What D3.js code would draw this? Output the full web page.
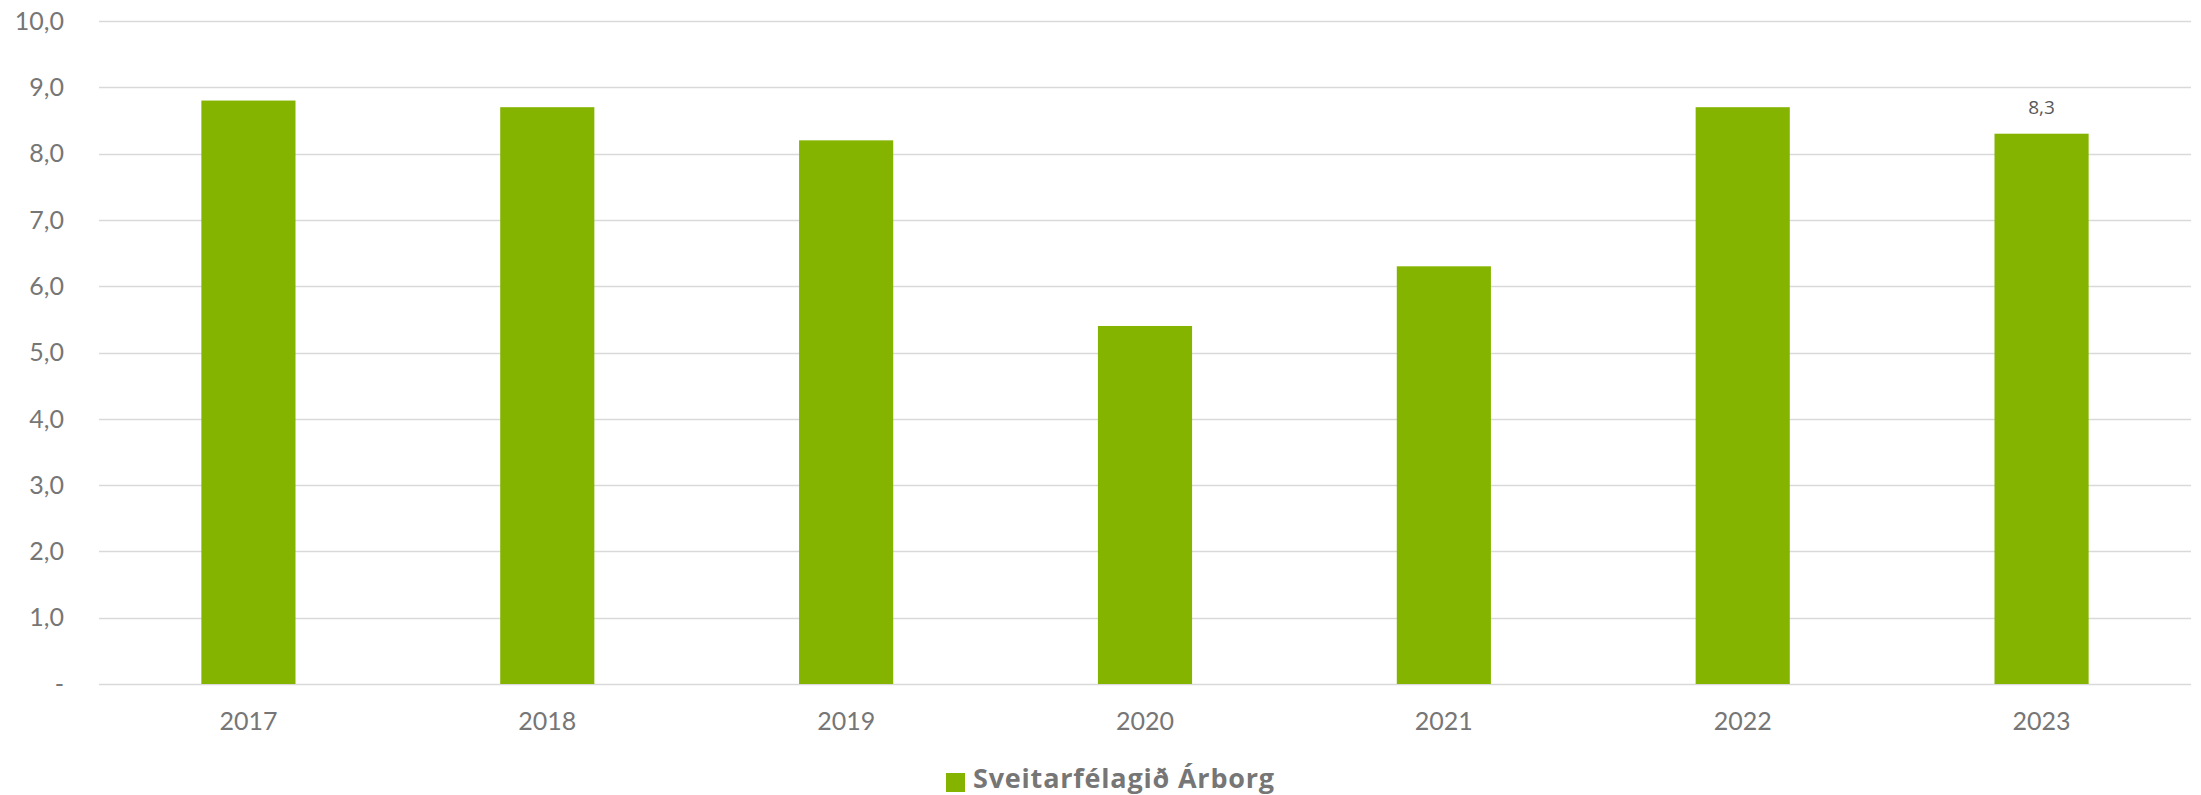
<!DOCTYPE html>
<html>
<head>
<meta charset="utf-8">
<script src="https://cdn.jsdelivr.net/npm/d3@7"></script>
<style>
  html, body { margin: 0; padding: 0; background: #fff; }
  svg { display: block; }
</style>
</head>
<body>
<svg id="chart" width="2201" height="795"></svg>
<script>
(function() {

	// data
	var years = ['2017', '2018', '2019', '2020', '2021', '2022', '2023'],
		values = [8.8, 8.7, 8.2, 5.4, 6.3, 8.7, 8.3],
		yTicks = [0, 1, 2, 3, 4, 5, 6, 7, 8, 9, 10],
		seriesName = 'Sveitarfélagið Árborg',
		labelled = ['2023'];

	var left = 99,
		right = 2191,
		top = 21,
		bottom = 684,
		barColor = '#84b400',
		gridColor = '#d9d9d9',
		textColor = '#767676',
		fontFamily = 'Lato, "Open Sans", sans-serif';

	var svg = d3.select('#chart');

	var x = d3.scaleBand()
		.domain(years)
		.range([left, right])
		.padding(0);

	var y = d3.scaleLinear()
		.domain([0, 10])
		.range([bottom, top]);

	var barWidth = x.bandwidth() * 0.315;

	var fmt = function(v) {
		return v === 0 ? '-' : d3.format('.1f')(v).replace('.', ',');
	};

	//grid lines
	svg.append('g')
		.selectAll('line')
		.data(yTicks)
		.enter()
			.append('line')
			.attr('x1', left)
			.attr('x2', right)
			.attr('y1', function(d) { return Math.round(y(d)) + 0.5; })
			.attr('y2', function(d) { return Math.round(y(d)) + 0.5; })
			.attr('stroke', gridColor)
			.attr('stroke-width', 1.5);

	//y labels
	svg.append('g')
		.selectAll('text')
		.data(yTicks)
		.enter()
			.append('text')
			.attr('x', 64)
			.attr('y', function(d) { return y(d); })
			.attr('dy', '0.35em')
			.attr('text-anchor', 'end')
			.attr('fill', textColor)
			.attr('font-family', fontFamily)
			.attr('font-size', 25)
			.text(fmt);

	//bars
	svg.append('g')
		.selectAll('rect')
		.data(values)
		.enter()
			.append('rect')
			.attr('x', function(d, i) { return x(years[i]) + (x.bandwidth() - barWidth) / 2; })
			.attr('y', function(d) { return y(d); })
			.attr('width', barWidth)
			.attr('height', function(d) { return y(0) - y(d); })
			.attr('fill', barColor);

	//x labels
	svg.append('g')
		.selectAll('text')
		.data(years)
		.enter()
			.append('text')
			.attr('x', function(d) { return x(d) + x.bandwidth() / 2; })
			.attr('y', 721)
			.attr('dy', '0.35em')
			.attr('text-anchor', 'middle')
			.attr('fill', textColor)
			.attr('font-family', fontFamily)
			.attr('font-size', 25)
			.text(function(d) { return d; });

	//value label on the last bar
	svg.append('g')
		.selectAll('text')
		.data(values.filter(function(d, i) { return labelled.indexOf(years[i]) >= 0; }))
		.enter()
			.append('text')
			.attr('x', x('2023') + x.bandwidth() / 2)
			.attr('y', function(d) { return y(d) - 26; })
			.attr('dy', '0.35em')
			.attr('text-anchor', 'middle')
			.attr('fill', '#595959')
			.attr('font-family', '"Open Sans", sans-serif')
			.attr('font-size', 19)
			.text(fmt);

	//legend
	var legend = svg.append('g');

	legend.append('rect')
		.attr('x', 946)
		.attr('y', 773)
		.attr('width', 19)
		.attr('height', 19)
		.attr('fill', barColor);

	legend.append('text')
		.attr('x', 973)
		.attr('y', 788)
		.attr('fill', textColor)
		.attr('font-family', '"Open Sans", sans-serif')
		.attr('font-weight', 'bold')
		.attr('font-size', 27)
		.attr('letter-spacing', 0.8)
		.text(seriesName);

}());
</script>
</body>
</html>
